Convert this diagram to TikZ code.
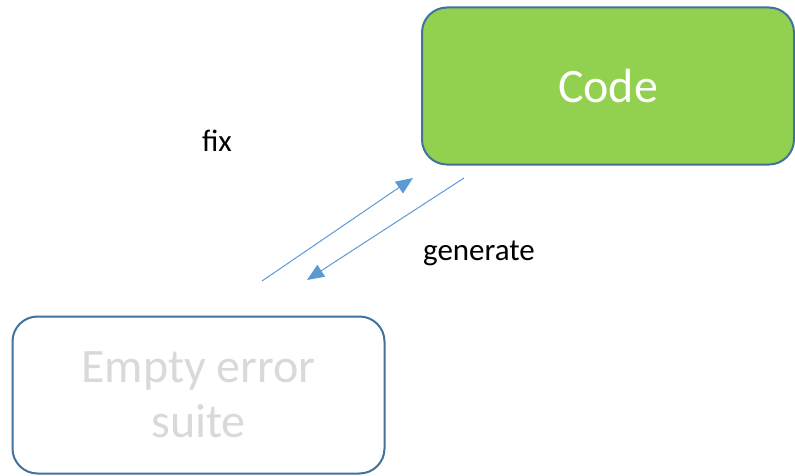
\documentclass[tikz,border=0pt]{standalone}
\usepackage{fontspec}
\setmainfont{Carlito}
\usepackage{tikz}
\usetikzlibrary{arrows.meta,positioning}
\definecolor{boxgreen}{HTML}{92D050}
\definecolor{boxline}{HTML}{41719C}
\definecolor{arrowblue}{HTML}{5B9BD5}
\definecolor{emptytext}{HTML}{D9D9D9}
\tikzset{
  box/.style={draw=boxline, line width=2pt, rounded corners=25pt, rectangle,
    minimum width=372pt, minimum height=157pt, align=center,
    font=\fontsize{48}{55}\selectfont},
  flow/.style={arrowblue, line width=1pt, -{Triangle[length=17pt,width=14pt]}},
  lbl/.style={font=\fontsize{31}{36}\selectfont}
}
\begin{document}
\begin{tikzpicture}[x=1pt,y=-1pt]
\useasboundingbox (0,0) rectangle (795,476);

% the two boxes
\node[box, fill=boxgreen, text=white] (code) at (608,86) {Code};
\node[box, fill=white, text=emptytext] (suite) at (198.5,395) {Empty error\\suite};

% arrow end points
\foreach \n/\x/\y in {fixs/262/281, fixe/413/178, gens/464/178, gene/307/280} {
    \coordinate (\n) at (\x,\y);
}

% fix goes up, generate comes down
\draw[flow] (fixs) -- (fixe);
\draw[flow] (gens) -- (gene);

% labels
\node[lbl] (fix) at (217,141) {fix};
\node[lbl] (gen) at (479,253) {generate};
\end{tikzpicture}
\end{document}
